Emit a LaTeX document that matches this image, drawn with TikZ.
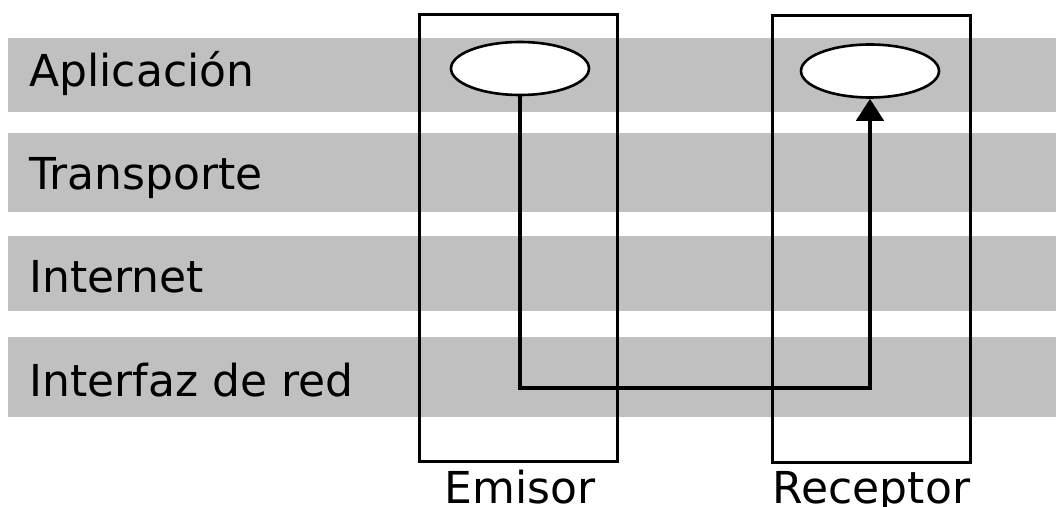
\documentclass[tikz,border=0pt]{standalone}
\usepackage{fontspec}
\setmainfont{DejaVu Sans}
\usetikzlibrary{positioning, arrows.meta, shapes.geometric, calc}
\definecolor{banda}{RGB}{192,192,192}

\begin{document}
\begin{tikzpicture}[
  x=0.5pt, y=-0.5pt,
  capa/.style={fill=banda, draw=none},
  lbl/.style={anchor=base west, inner sep=0pt, font=\fontsize{22}{26}\selectfont},
  host/.style={draw=black, line width=1.5pt, minimum width=99pt,
               minimum height=223.5pt, inner sep=0pt},
  app/.style={ellipse, draw=black, fill=white, line width=1.3pt,
              minimum width=69pt, minimum height=26.5pt, inner sep=0pt},
  flujo/.style={draw=black, line width=2.4pt,
                -{Triangle[length=11pt, width=13.5pt]}},
  nom/.style={anchor=base, inner sep=0pt, font=\fontsize{22}{26}\selectfont}]
  \useasboundingbox (0,0) rectangle (1056,507);
  % capas
  \fill[capa] (8,38) rectangle (1056,112);
  \fill[capa] (8,133) rectangle (1056,212);
  \fill[capa] (8,236) rectangle (1056,311);
  \fill[capa] (8,337) rectangle (1056,417);
  \node[lbl] (l1) at (29,87) {Aplicación};
  \node[lbl] (l2) at (29,190) {Transporte};
  \node[lbl] (l3) at (29,293) {Internet};
  \node[lbl] (l4) at (29,397) {Interfaz de red};
  % equipos
  \node[host] (em) at (518,238) {};
  \node[host] (re) at (871.5,239) {};
  \node[nom] at (520,504) {Emisor};
  \node[nom] at (871.5,504) {Receptor};
  \node[app] (a1) at (520,68.5) {};
  \node[app] (a2) at (870,71) {};
  \coordinate (fondo) at (0,388);
  \draw[flujo] (a1.south) -- (a1.south |- fondo) -| (a2.south);
\end{tikzpicture}
\end{document}
